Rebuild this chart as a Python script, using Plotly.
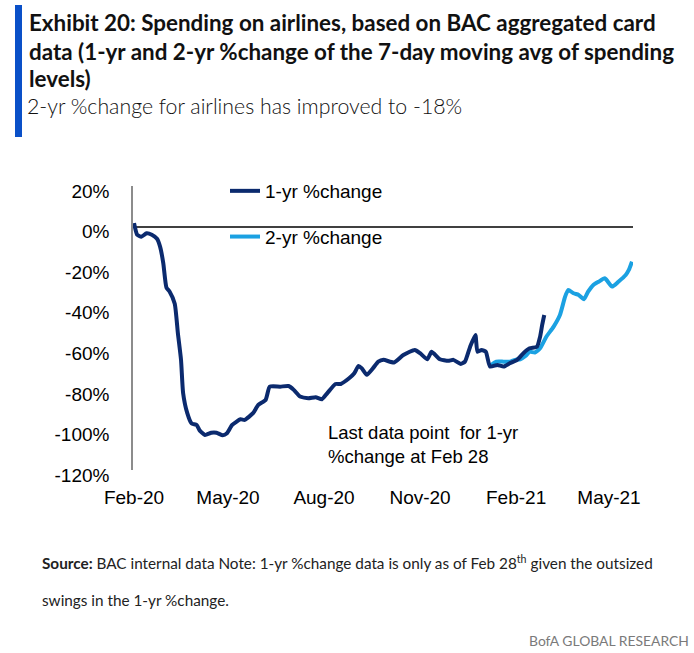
import plotly.graph_objects as go

# ---------------- data ----------------
dates_1yr = [
    "2020-02-01", "2020-02-04", "2020-02-08", "2020-02-13", "2020-02-18", "2020-02-23",
    "2020-02-26", "2020-02-29", "2020-03-03", "2020-03-06", "2020-03-11", "2020-03-14",
    "2020-03-17", "2020-03-19", "2020-03-23", "2020-03-27", "2020-04-01", "2020-04-04",
    "2020-04-09", "2020-04-15", "2020-04-20", "2020-04-26", "2020-04-30", "2020-05-05",
    "2020-05-13", "2020-05-17", "2020-05-25", "2020-05-30", "2020-06-06", "2020-06-10",
    "2020-06-20", "2020-06-28", "2020-07-03", "2020-07-09", "2020-07-17", "2020-07-24",
    "2020-07-30", "2020-08-04", "2020-08-12", "2020-08-17", "2020-08-25", "2020-08-30",
    "2020-09-03", "2020-09-06", "2020-09-11", "2020-09-17", "2020-09-22", "2020-09-27",
    "2020-10-07", "2020-10-16", "2020-10-27", "2020-11-01", "2020-11-08", "2020-11-12",
    "2020-11-20", "2020-11-28", "2020-12-03", "2020-12-10", "2020-12-14", "2020-12-19",
    "2020-12-24", "2020-12-26", "2020-12-30", "2021-01-03", "2021-01-07", "2021-01-14",
    "2021-01-20", "2021-01-26", "2021-02-02", "2021-02-08", "2021-02-14", "2021-02-21",
    "2021-02-24", "2021-02-26", "2021-02-28",
]
pct_1yr = [
    1.7, -4.0, -5.0, -3.3, -4.0, -6.0,
    -10.0, -18.0, -30.0, -32.0, -38.0, -52.6,
    -65.7, -82.0, -92.0, -97.0, -97.8, -100.6,
    -102.7, -101.6, -101.6, -102.9, -101.9, -97.8,
    -95.0, -95.3, -92.0, -87.9, -85.5, -78.9,
    -78.9, -78.6, -80.5, -83.8, -84.6, -84.1,
    -85.1, -82.2, -77.6, -77.6, -74.8, -72.3,
    -68.7, -69.8, -73.1, -69.8, -66.6, -65.7,
    -67.0, -63.3, -60.8, -62.4, -65.4, -61.7,
    -65.4, -66.2, -65.7, -67.7, -66.6, -59.2,
    -53.4, -61.7, -60.8, -61.7, -69.0, -68.2,
    -69.0, -67.4, -65.7, -62.4, -60.0, -59.2,
    -54.3, -48.5, -43.6,
]

dates_2yr = [
    "2021-01-07", "2021-01-13", "2021-01-20", "2021-01-26", "2021-01-31", "2021-02-05",
    "2021-02-10", "2021-02-14", "2021-02-19", "2021-02-24", "2021-03-02", "2021-03-09",
    "2021-03-15", "2021-03-20", "2021-03-23", "2021-03-28", "2021-04-02", "2021-04-07",
    "2021-04-11", "2021-04-16", "2021-04-21", "2021-04-27", "2021-05-04", "2021-05-10",
    "2021-05-17", "2021-05-20", "2021-05-23",
]
pct_2yr = [
    -68.7, -66.6, -66.6, -66.6, -65.7, -65.4,
    -63.8, -61.7, -62.1, -60.0, -54.3, -49.3,
    -43.6, -34.5, -31.2, -32.9, -33.7, -35.8,
    -32.1, -28.8, -27.2, -25.5, -29.6, -27.2,
    -23.9, -21.4, -17.3,
]

series_names = ["1-yr %change", "2-yr %change"]
x_tick_dates = ["2020-02-01", "2020-05-01", "2020-08-01", "2020-11-01", "2021-02-01", "2021-05-01"]
x_tick_labels = ["Feb-20", "May-20", "Aug-20", "Nov-20", "Feb-21", "May-21"]
y_tick_values = [20, 0, -20, -40, -60, -80, -100, -120]
y_tick_labels = ["20%", "0%", "-20%", "-40%", "-60%", "-80%", "-100%", "-120%"]
x_range = ["2020-01-31", "2021-05-24"]
y_range = [-120, 20]

title_lines = [
    "Exhibit 20: Spending on airlines, based on BAC aggregated card",
    "data (1-yr and 2-yr %change of the 7-day moving avg of spending",
    "levels)",
]
subtitle = "2-yr %change for airlines has improved to -18%"
note_text = "Last data point  for 1-yr<br>%change at Feb 28"
source_line1 = ("<b>Source:</b> BAC internal data Note: 1-yr %change data is only as of Feb 28"
                "<sup>th</sup> given the outsized")
source_line2 = "swings in the 1-yr %change."
brand = "BofA GLOBAL RESEARCH"

# ---------------- layout helpers ----------------
W, H = 694, 653
PL, PR, PT, PB = 133, 633, 186, 470   # plot-area edges in pixels


def px(x):
    return (x - PL) / (PR - PL)


def py(y):
    return (PB - y) / (PB - PT)


NAVY = "#0B2A6E"
LIGHT = "#1BA1E2"
CHART_FONT = "Liberation Sans, Arial, sans-serif"
TITLE_FONT = "Lato, Roboto, Liberation Sans, sans-serif"
FOOT_FONT = "Lato, Roboto, Liberation Sans, sans-serif"

fig = go.Figure()
fig.add_trace(go.Scatter(
    x=dates_2yr, y=pct_2yr, mode="lines", name=series_names[1],
    line=dict(color=LIGHT, width=4, shape="spline", smoothing=0.5),
    legendrank=2, legendgroup="b",
))
fig.add_trace(go.Scatter(
    x=dates_1yr, y=pct_1yr, mode="lines", name=series_names[0],
    line=dict(color=NAVY, width=4, shape="spline", smoothing=0.5),
    legendrank=1, legendgroup="a",
))

annotations = []
title_centers = [22, 51, 79]
for line, yc in zip(title_lines, title_centers):
    annotations.append(dict(
        text=line, xref="paper", yref="paper", x=px(27), y=py(yc),
        xanchor="left", yanchor="middle", showarrow=False,
        font=dict(family=TITLE_FONT, size=22.4, color="#111111", weight="bold"),
    ))
annotations.append(dict(
    text=subtitle, xref="paper", yref="paper", x=px(25), y=py(106),
    xanchor="left", yanchor="middle", showarrow=False,
    font=dict(family=TITLE_FONT, size=21.3, color="#111111", weight=300),
))
annotations.append(dict(
    text=note_text, xref="paper", yref="paper", x=px(326), y=py(444),
    xanchor="left", yanchor="middle", align="left", showarrow=False,
    font=dict(family=CHART_FONT, size=18.5, color="#000000"),
))
annotations.append(dict(
    text=source_line1, xref="paper", yref="paper", x=px(40), y=py(562),
    xanchor="left", yanchor="middle", showarrow=False,
    font=dict(family=FOOT_FONT, size=15.3, color="#222222"),
))
annotations.append(dict(
    text=source_line2, xref="paper", yref="paper", x=px(40), y=py(600),
    xanchor="left", yanchor="middle", showarrow=False,
    font=dict(family=FOOT_FONT, size=15.3, color="#222222"),
))
annotations.append(dict(
    text=brand, xref="paper", yref="paper", x=px(691), y=py(640),
    xanchor="right", yanchor="middle", showarrow=False,
    font=dict(family=FOOT_FONT, size=13.9, color="#7a7a7a"),
))

fig.update_layout(
    width=W, height=H,
    margin=dict(l=PL, r=W - PR, t=PT, b=H - PB, pad=0),
    paper_bgcolor="white", plot_bgcolor="white",
    font=dict(family=CHART_FONT, size=19, color="#000000"),
    showlegend=True,
    legend=dict(
        x=px(225), y=py(172), xanchor="left", yanchor="top",
        bgcolor="rgba(0,0,0,0)", borderwidth=0, tracegroupgap=18,
        font=dict(family=CHART_FONT, size=19, color="#000000"),
        traceorder="grouped",
    ),
    annotations=annotations,
    shapes=[dict(
        type="rect", xref="paper", yref="paper",
        x0=px(15), x1=px(22), y0=py(5), y1=py(137),
        fillcolor="#0A50C8", line=dict(width=0), layer="above",
    )],
)
fig.update_xaxes(
    type="date", range=x_range, tickvals=x_tick_dates, ticktext=x_tick_labels,
    showgrid=False, zeroline=False, showline=False, ticks="",
    ticklabelstandoff=14, tickfont=dict(family=CHART_FONT, size=19, color="#000000"),
    fixedrange=True,
)
fig.update_yaxes(
    range=y_range, tickvals=y_tick_values, ticktext=y_tick_labels,
    showgrid=False, zeroline=True, zerolinecolor="#404040", zerolinewidth=1.5,
    showline=True, linecolor="#8c8c8c", linewidth=1.5, ticks="",
    ticklabelstandoff=18, ticklabelshift=5,
    tickfont=dict(family=CHART_FONT, size=19, color="#000000"),
    fixedrange=True,
)

fig.write_html("out.html")
